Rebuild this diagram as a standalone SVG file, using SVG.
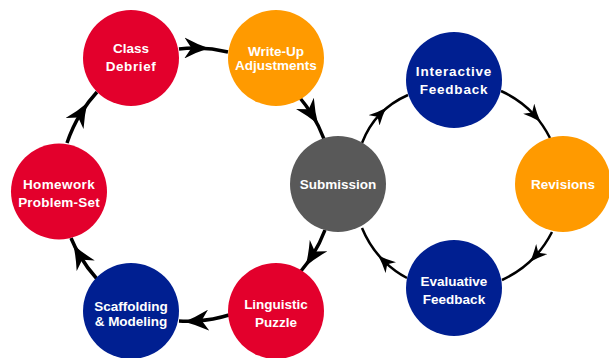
<svg xmlns="http://www.w3.org/2000/svg" width="609" height="358" viewBox="0 0 609 358">
<style>
.red{fill:#E3002C}
.orange{fill:#FF9A00}
.blue{fill:#001F91}
.gray{fill:#595959}
.lbl{font-family:"Liberation Sans",Arial,sans-serif;font-weight:bold;font-size:13.5px;fill:#fff;text-anchor:middle}
.thick{fill:none;stroke:#000;stroke-width:3.5;marker-mid:url(#ah)}
.thin{fill:none;stroke:#000;stroke-width:2.5;marker-mid:url(#ah)}
</style>
<defs>
<marker id="ah" viewBox="0 0 7 6" refX="3.4" refY="3" markerWidth="7" markerHeight="6" orient="auto" markerUnits="strokeWidth">
<path d="M0,0 Q3.6,1.9 7,3 Q3.6,4.1 0,6 L2,3 Z" fill="#000"/>
</marker>
</defs>
<rect width="609" height="358" fill="#fff"/>
<g id="connectors">
<path class="thick" d="M179,49 Q187.7,48 196.3,48.1 Q212.2,48.3 228,52"/>
<path class="thick" d="M300,98 Q306.2,105.4 311.3,113.4 Q318.9,125.5 324,139"/>
<path class="thick" d="M325,230 Q319.9,243.5 312.3,255.6 Q307.2,263.6 301,271"/>
<path class="thick" d="M229,315 Q213.1,319.9 196.8,320.9 Q187.9,321.5 179,321"/>
<path class="thick" d="M97,279 Q87.1,268 79.7,255.5 Q74.8,247.1 71,238"/>
<path class="thick" d="M67,143 Q72.3,127.2 80.8,113.4 Q87.8,102 97,92"/>
<path class="thin" d="M362,143 Q368.5,126.2 380,114.2 Q391.5,102.2 408,95"/>
<path class="thin" d="M501,91 Q520.7,99.9 534.4,115 Q543.5,125.1 550,138"/>
<path class="thin" d="M552,232 Q545.3,245.1 536,255.4 Q522,270.8 502,280"/>
<path class="thin" d="M407,278 Q394.4,271.2 384.7,261.8 Q370.2,247.8 362,228"/>
</g>
<g id="class-debrief">
<circle class="red" cx="131" cy="58" r="48"/>
<text class="lbl" x="131" y="52.5">Class</text>
<text class="lbl" x="131" y="70.5" letter-spacing="0.6">Debrief</text>
</g>
<g id="write-up">
<circle class="orange" cx="276" cy="58" r="48"/>
<text class="lbl" x="276" y="56">Write-Up</text>
<text class="lbl" x="276" y="69.5">Adjustments</text>
</g>
<g id="submission">
<circle class="gray" cx="338" cy="184" r="48"/>
<text class="lbl" x="338" y="189">Submission</text>
</g>
<g id="linguistic-puzzle">
<circle class="red" cx="276" cy="311" r="48"/>
<text class="lbl" x="276" y="308.5">Linguistic</text>
<text class="lbl" x="276" y="326.5">Puzzle</text>
</g>
<g id="scaffolding">
<circle class="blue" cx="131" cy="311" r="48"/>
<text class="lbl" x="131" y="310.5">Scaffolding</text>
<text class="lbl" x="131" y="325.5">&amp; Modeling</text>
</g>
<g id="homework">
<circle class="red" cx="59" cy="191.5" r="48"/>
<text class="lbl" x="59" y="188.5" letter-spacing="0.4">Homework</text>
<text class="lbl" x="59" y="206.5" letter-spacing="0.2">Problem-Set</text>
</g>
<g id="interactive-feedback">
<circle class="blue" cx="454" cy="80" r="48"/>
<text class="lbl" x="454" y="76" letter-spacing="0.8">Interactive</text>
<text class="lbl" x="454" y="93.5" letter-spacing="0.8">Feedback</text>
</g>
<g id="revisions">
<circle class="orange" cx="563" cy="184" r="48"/>
<text class="lbl" x="563" y="189">Revisions</text>
</g>
<g id="evaluative-feedback">
<circle class="blue" cx="454" cy="288" r="48"/>
<text class="lbl" x="454" y="285.5">Evaluative</text>
<text class="lbl" x="454" y="303.5">Feedback</text>
</g>
</svg>
